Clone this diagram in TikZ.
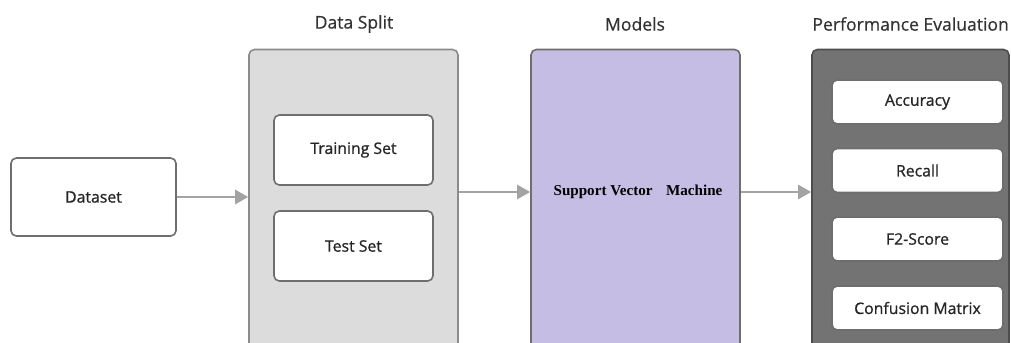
\documentclass[tikz,border=0pt]{standalone}
\usepackage{fontspec}
\setmainfont{Open Sans}
\newfontfamily\medfont{Open Sans}[FakeBold=0.9]
\newfontfamily\headfont{Open Sans}[FakeBold=0.5]
\newfontfamily\svmfont{Liberation Serif}
\usetikzlibrary{arrows.meta}
\definecolor{boxline}{HTML}{6E6E6E}
\definecolor{splitfill}{HTML}{DCDCDC}
\definecolor{modelfill}{HTML}{C5BDE4}
\definecolor{evalfill}{HTML}{737373}
\definecolor{arrowgray}{HTML}{A3A3A3}
\tikzset{
    whitebox/.style={draw=boxline, line width=0.9pt, fill=white, rounded corners=3pt, font=\medfont\fontsize{9}{11}\selectfont, text=black!85},
    bigbox/.style={draw=boxline, line width=0.9pt, rounded corners=3pt, minimum width=4.18cm, minimum height=6.3cm},
    title/.style={font=\headfont\fontsize{10}{12}\selectfont, text=black!80},
    flow/.style={draw=arrowgray, line width=1.6pt, -{Triangle[length=7.5pt,width=8pt]}}
}
\begin{document}
\begin{tikzpicture}[x=0.02cm, y=-0.02cm]
            \clip (0,0) rectangle (1011,342);
            \fill[white] (0,0) rectangle (1011,342);

            \node[whitebox, minimum width=3.3cm, minimum height=1.56cm] (DS) at (93.5,197) {Dataset};

            \node[bigbox, fill=splitfill, draw=boxline!80] (SP) at (353.5,207) {};
            \node[title] (TSP) at (354,24) {Data Split};
            \node[whitebox, minimum width=3.18cm, minimum height=1.4cm] (TR) at (353.5,150) {Training Set};
            \node[whitebox, minimum width=3.18cm, minimum height=1.4cm] (TE) at (353.5,246) {Test Set};

            \node[bigbox, fill=modelfill] (MO) at (635.5,207) {};
            \node[title] (TMO) at (635,24) {Models};
            \node[font=\svmfont\bfseries\fontsize{8.6}{10}\selectfont] (SV) at (638,192) {Support Vector\hspace{0.9em}Machine};

            \node[bigbox, fill=evalfill, draw=boxline!70!black, minimum width=3.94cm] (PE) at (910.5,207) {};
            \node[title, anchor=east, inner sep=1pt] (TPE) at (1011,24) {Performance Evaluation};
            \node[whitebox, minimum width=3.42cm, minimum height=0.88cm] (AC) at (917.5,102) {Accuracy};
            \node[whitebox, minimum width=3.42cm, minimum height=0.88cm] (RE) at (917.5,170.5) {Recall};
            \node[whitebox, minimum width=3.42cm, minimum height=0.88cm] (FS) at (917.5,239) {F2-Score};
            \node[whitebox, minimum width=3.42cm, minimum height=0.88cm] (CM) at (917.5,308) {Confusion Matrix};

            \draw[flow] (DS) -- (DS -| SP.west);
            \draw[flow] (SP.east |- SV) -- (MO.west |- SV);
            \draw[flow] (MO.east |- SV) -- (PE.west |- SV);
        \end{tikzpicture}
\end{document}
